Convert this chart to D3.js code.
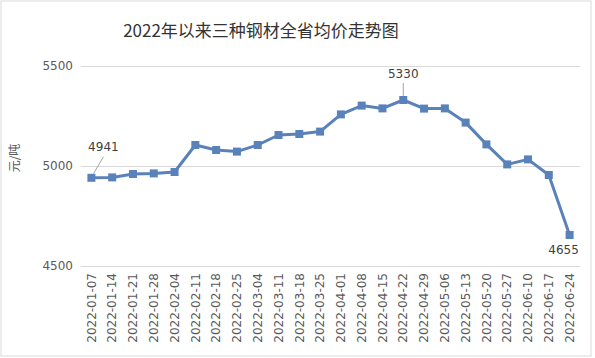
<!DOCTYPE html>
<html>
<head>
<meta charset="utf-8">
<script src="https://cdn.jsdelivr.net/npm/d3@7"></script>
<style>
  html, body { margin: 0; padding: 0; background: #fff; }
  svg { display: block; }
</style>
</head>
<body>
<svg id="chart" width="595" height="358"></svg>
<script>
const title = "2022年以来三种钢材全省均价走势图";
const yLabel = "元/吨";
const dates = ["2022-01-07","2022-01-14","2022-01-21","2022-01-28","2022-02-04","2022-02-11",
  "2022-02-18","2022-02-25","2022-03-04","2022-03-11","2022-03-18","2022-03-25",
  "2022-04-01","2022-04-08","2022-04-15","2022-04-22","2022-04-29","2022-05-06",
  "2022-05-13","2022-05-20","2022-05-27","2022-06-10","2022-06-17","2022-06-24"];
const prices = [4941, 4943, 4960, 4963, 4970, 5105, 5080, 5072, 5105, 5155, 5160, 5172,
  5258, 5302, 5288, 5330, 5287, 5288, 5217, 5108, 5008, 5033, 4955, 4655];
const yTicks = [4500, 5000, 5500];
const labeledIdx = [0, 15, 23];

const svg = d3.select("#chart");
const W = 595, H = 358;
const m = { left: 81, right: 15, top: 66, bottom: 92 };

svg.append("rect").attr("x", 1).attr("y", 1).attr("width", 590).attr("height", 355)
  .attr("fill", "#fff").attr("stroke", "#d9d9d9").attr("stroke-width", 1);

const x = d3.scaleBand().domain(dates).range([m.left, W - m.right]);
const y = d3.scaleLinear().domain([4500, 5500]).range([H - m.bottom, m.top]);

// title
svg.append("text").attr("x", 261).attr("y", 37).attr("text-anchor", "middle")
  .attr("font-family", "'Noto Sans CJK SC', 'Noto Sans', sans-serif")
  .attr("font-size", 17).attr("fill", "#333333").text(title);

// gridlines + y axis
const yAxis = d3.axisLeft(y).tickValues(yTicks).tickFormat(d3.format("d"))
  .tickSize(-(W - m.left - m.right)).tickPadding(8);
const gy = svg.append("g").attr("transform", `translate(${m.left},0)`).call(yAxis);
gy.select(".domain").remove();
gy.selectAll(".tick line").attr("stroke", "#d9d9d9").attr("stroke-width", 1);
gy.selectAll(".tick text").attr("font-family", "'DejaVu Sans', sans-serif")
  .attr("font-size", 12).attr("fill", "#595959");

// x axis
const xAxis = d3.axisBottom(x).tickSize(0).tickPadding(0);
const gx = svg.append("g").attr("transform", `translate(0,${H - m.bottom})`).call(xAxis);
gx.select(".domain").remove();
gx.selectAll(".tick text")
  .attr("font-family", "'DejaVu Sans', sans-serif").attr("font-size", 12).attr("fill", "#595959")
  .attr("transform", "rotate(-90)")
  .attr("text-anchor", "end").attr("x", -7).attr("y", 0).attr("dy", "0.35em");

// y label
svg.append("text").attr("transform", "translate(19,158) rotate(-90)")
  .attr("text-anchor", "middle")
  .attr("font-family", "'Noto Sans CJK SC', sans-serif").attr("font-size", 12)
  .attr("fill", "#595959").text(yLabel);

const cx = d => x(d) + x.bandwidth() / 2;
const color = "#5a82ba";

const line = d3.line().x((d, i) => cx(dates[i])).y(d => y(d));
svg.append("path").datum(prices).attr("d", line).attr("fill", "none")
  .attr("stroke", color).attr("stroke-width", 3).attr("stroke-linejoin", "round");

svg.selectAll("rect.mk").data(prices).enter().append("rect").attr("class", "mk")
  .attr("x", (d, i) => cx(dates[i]) - 4).attr("y", d => y(d) - 4)
  .attr("width", 8).attr("height", 8).attr("fill", color);

// data labels
const lblFont = "'DejaVu Sans', sans-serif";
{
  const i = labeledIdx[0], px = cx(dates[i]), py = y(prices[i]);
  svg.append("line").attr("x1", px + 2).attr("y1", py - 4).attr("x2", px + 12).attr("y2", py - 21)
    .attr("stroke", "#a6a6a6").attr("stroke-width", 1);
  svg.append("text").attr("x", px + 12).attr("y", py - 27).attr("text-anchor", "middle")
    .attr("font-family", lblFont).attr("font-size", 12).attr("fill", "#404040").text(prices[i]);
}
{
  const i = labeledIdx[1], px = cx(dates[i]), py = y(prices[i]);
  svg.append("line").attr("x1", px).attr("y1", py - 4).attr("x2", px).attr("y2", py - 17)
    .attr("stroke", "#a6a6a6").attr("stroke-width", 1);
  svg.append("text").attr("x", px).attr("y", py - 22).attr("text-anchor", "middle")
    .attr("font-family", lblFont).attr("font-size", 12).attr("fill", "#404040").text(prices[i]);
}
{
  const i = labeledIdx[2], px = cx(dates[i]), py = y(prices[i]);
  svg.append("text").attr("x", px - 6).attr("y", py + 19).attr("text-anchor", "middle")
    .attr("font-family", lblFont).attr("font-size", 12).attr("fill", "#404040").text(prices[i]);
}
</script>
</body>
</html>
